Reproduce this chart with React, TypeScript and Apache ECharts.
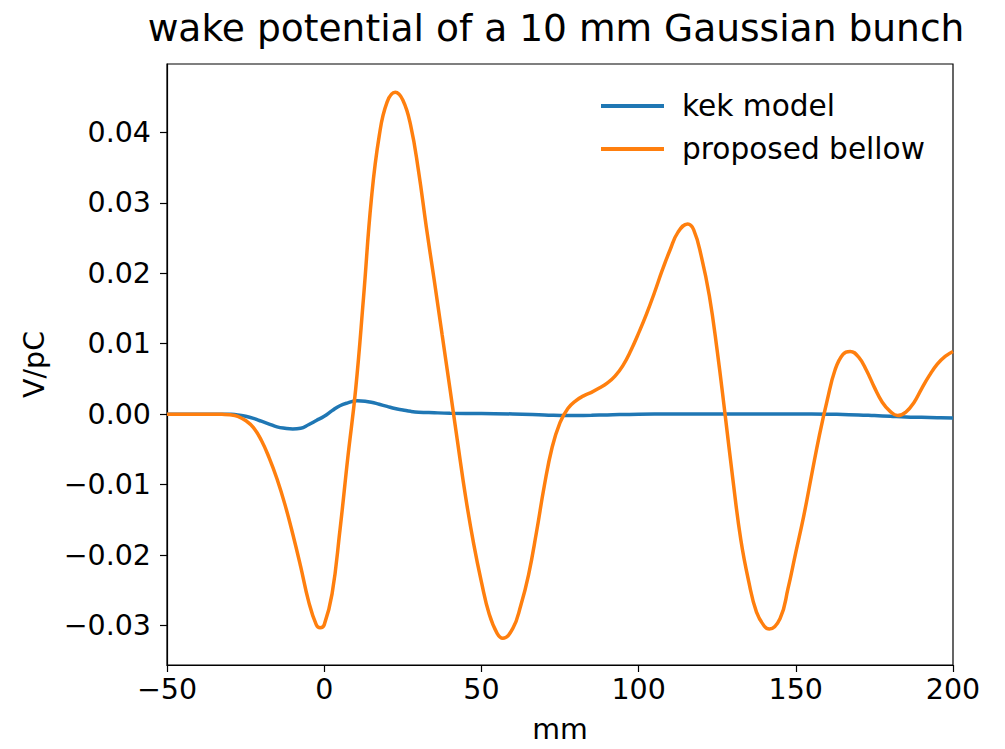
import React, { useEffect, useRef } from "react";
import * as echarts from "echarts";

const titleText = "wake potential of a 10 mm Gaussian bunch";
const seriesNames = ["kek model", "proposed bellow"];
const xTicks = [-50, 0, 50, 100, 150, 200];
const yTicks = [-0.03, -0.02, -0.01, 0.0, 0.01, 0.02, 0.03, 0.04];

const kekX = [-50, -40, -35, -32.5, -30, -27.5, -25, -22.5, -20, -17.5, -15, -12.5, -10, -7.5, -5, -2.5, 0, 2.5, 5, 7.5, 10.5, 13, 15, 17.5, 20, 22.5, 25, 27.5, 30, 35, 40, 50, 60, 70, 77.5, 85, 90, 100, 110, 120, 130, 140, 150, 160, 165, 170, 175, 180, 185, 190, 195, 200];
const kekY = [0, 0, 0, 0, -0.00002, -0.0001, -0.0003, -0.0006, -0.001, -0.0014, -0.0018, -0.002, -0.0021, -0.002, -0.0015, -0.0009, -0.0003, 0.0005, 0.0012, 0.0016, 0.0019, 0.00185, 0.0017, 0.0014, 0.0011, 0.0008, 0.0006, 0.0004, 0.00028, 0.0002, 0.00014, 0.00008, 0.00003, -0.0001, -0.0002, -0.00015, -0.0001, 0, 0.00002, 0.00002, 0.00002, 0.00001, 0.00001, 0, -0.00005, -0.0001, -0.0002, -0.0003, -0.0004, -0.00045, -0.0005, -0.00055];

const bellowX = [-50, -45, -40, -35, -32.5, -30, -27.5, -25, -22.5, -20, -17.5, -15, -12.5, -10, -7.5, -5, -2.5, -1.3, 0, 2.5, 5, 7.5, 10, 12.5, 15, 17.5, 20, 22.6, 25, 27.5, 30, 32.5, 35, 37.5, 40, 42.5, 45, 47.5, 50, 52.5, 55, 56.8, 60, 62.5, 65, 67.5, 70, 72.5, 75, 77.5, 80, 82.5, 85, 87.5, 90, 92.5, 95, 97.5, 100, 102.5, 105, 107.5, 110, 112.5, 115.6, 117.5, 120, 122.5, 125, 127.5, 130, 132.5, 135, 137.5, 140, 141.6, 145, 147.5, 150, 152.5, 155, 157.5, 160, 162.5, 165, 167.3, 170, 172.5, 175, 177.5, 180, 182.4, 185, 187.5, 190, 192.5, 195, 197.5, 200];
const bellowY = [0, 0, 0, 0, -0.00002, -0.00008, -0.0003, -0.0009, -0.0019, -0.0037, -0.0062, -0.0092, -0.0128, -0.017, -0.0216, -0.0265, -0.0299, -0.0303, -0.0299, -0.0255, -0.0165, -0.0062, 0.0035, 0.0165, 0.0305, 0.0395, 0.0443, 0.0457, 0.0446, 0.041, 0.0345, 0.0265, 0.019, 0.0113, 0.0036, -0.0042, -0.0118, -0.0183, -0.0238, -0.0284, -0.0311, -0.0318, -0.0304, -0.0272, -0.0228, -0.0168, -0.0102, -0.0047, -0.0012, 0.0008, 0.0019, 0.0026, 0.0031, 0.0037, 0.0044, 0.0054, 0.0069, 0.009, 0.0115, 0.0142, 0.0172, 0.0204, 0.0233, 0.0258, 0.027, 0.0262, 0.0223, 0.0168, 0.009, 0.0, -0.0093, -0.0178, -0.0237, -0.0281, -0.0301, -0.0305, -0.029, -0.0248, -0.0196, -0.0145, -0.0087, -0.003, 0.002, 0.0063, 0.0085, 0.0089, 0.0081, 0.0062, 0.0038, 0.0017, 0.0004, -0.0002, 0.0003, 0.0016, 0.0036, 0.0055, 0.0071, 0.0082, 0.0089];

const FONT = "DejaVu Sans";
const fmtMinus = (s: string) => s.replace("-", "\u2212");

export default function App() {
  const ref = useRef<HTMLDivElement>(null);
  useEffect(() => {
    document.body.style.margin = "0";
    const chart = echarts.init(ref.current!, null, { renderer: "svg" });
    const pairs = (xs: number[], ys: number[]) => xs.map((x, i) => [x, ys[i]]);
    chart.setOption({
      animation: false,
      backgroundColor: "#ffffff",
      title: {
        text: titleText,
        left: 551,
        top: 4,
        textAlign: "center",
        textStyle: { fontFamily: FONT, fontSize: 37.6, fontWeight: "normal", color: "#000" },
      },
      legend: {
        orient: "vertical",
        left: 596,
        top: 86,
        itemWidth: 63,
        itemHeight: 4,
        itemGap: 13,
        icon: "rect",
        data: seriesNames,
        textStyle: { fontFamily: FONT, fontSize: 29.6, color: "#000", lineHeight: 30, padding: [0, 0, 0, 13] },
      },
      grid: {
        left: 167,
        right: 52,
        top: 64,
        bottom: 81,
        show: true,
        borderColor: "#000",
        borderWidth: 1.2,
        containLabel: false,
      },
      xAxis: {
        type: "value",
        min: -50,
        max: 200,
        interval: 50,
        name: "mm",
        nameLocation: "middle",
        nameGap: 50,
        nameTextStyle: { fontFamily: FONT, fontSize: 28.5, color: "#000" },
        axisLine: { show: true, onZero: false, lineStyle: { color: "#000", width: 1.2 } },
        axisTick: { show: true, length: 7, lineStyle: { color: "#000", width: 1.2 }, customValues: xTicks },
        axisLabel: {
          fontFamily: FONT,
          fontSize: 28.5,
          color: "#000",
          margin: 10,
          customValues: xTicks,
          formatter: (v: number) => fmtMinus(String(v)),
        },
        splitLine: { show: false },
      },
      yAxis: {
        type: "value",
        min: -0.0356,
        max: 0.0497,
        name: "V/pC",
        nameLocation: "middle",
        nameGap: 118,
        nameTextStyle: { fontFamily: FONT, fontSize: 28.5, color: "#000" },
        axisLine: { show: true, onZero: false, lineStyle: { color: "#000", width: 1.2 } },
        axisTick: { show: true, length: 7, lineStyle: { color: "#000", width: 1.2 }, customValues: yTicks },
        axisLabel: {
          fontFamily: FONT,
          fontSize: 28.5,
          color: "#000",
          margin: 16,
          customValues: yTicks,
          formatter: (v: number) => fmtMinus(v.toFixed(2)),
        },
        splitLine: { show: false },
      },
      series: [
        {
          name: seriesNames[0],
          type: "line",
          data: pairs(kekX, kekY),
          smooth: 0.45,
          showSymbol: false,
          symbol: "none",
          lineStyle: { color: "#1f77b4", width: 3.5 },
          itemStyle: { color: "#1f77b4" },
          z: 2,
        },
        {
          name: seriesNames[1],
          type: "line",
          data: pairs(bellowX, bellowY),
          smooth: 0.45,
          showSymbol: false,
          symbol: "none",
          lineStyle: { color: "#ff7f0e", width: 3.5 },
          itemStyle: { color: "#ff7f0e" },
          z: 3,
        },
      ],
    });
    return () => chart.dispose();
  }, []);
  return <div ref={ref} style={{ position: "absolute", left: 0, top: 0, width: 1005, height: 749 }} />;
}
